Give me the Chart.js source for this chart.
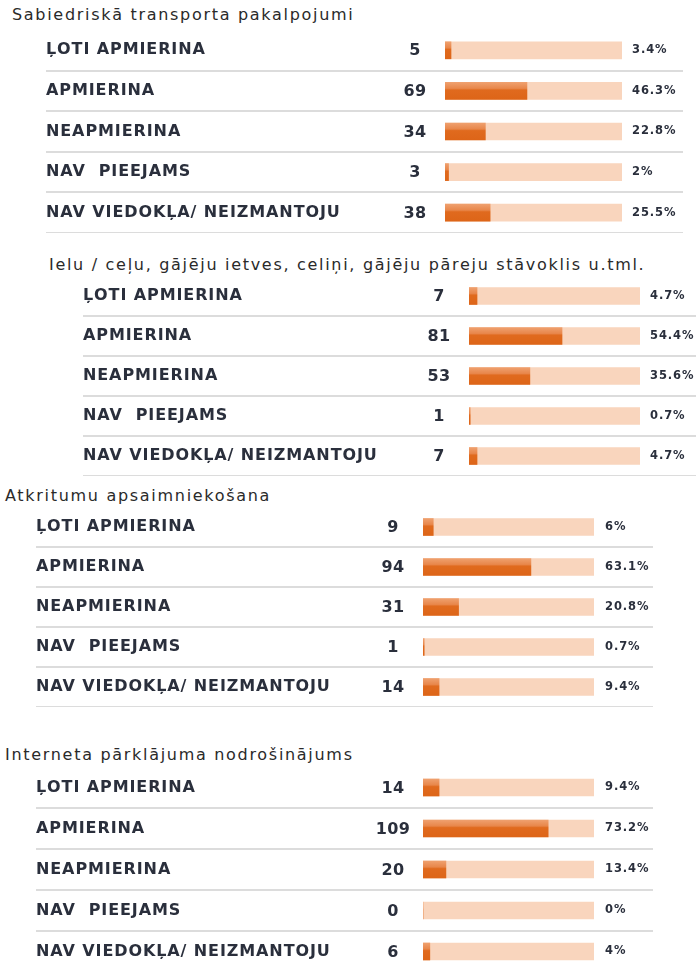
<!DOCTYPE html>
<html>
<head>
<meta charset="utf-8">
<script src="https://cdn.jsdelivr.net/npm/chart.js@4"></script>
<style>
  body { margin: 0; width: 696px; height: 967px; overflow: hidden; background: #fff; font-family: "DejaVu Sans", sans-serif; }
  .title { position: absolute; font-size: 16px; line-height: 18px; letter-spacing: 1.7px; color: #2a2a2a; white-space: nowrap; }
  .box { position: absolute; }
</style>
</head>
<body>
<div class="title" style="left:12px;top:6px">Sabiedriskā transporta pakalpojumi</div>
<div class="title" style="left:49px;top:256px">Ielu / ceļu, gājēju ietves, celiņi, gājēju pāreju stāvoklis u.tml.</div>
<div class="title" style="left:5px;top:487px">Atkritumu apsaimniekošana</div>
<div class="title" style="left:5px;top:746px">Interneta pārklājuma nodrošinājums</div>

<div class="box" id="b1"><canvas id="c1"></canvas></div>
<div class="box" id="b2"><canvas id="c2"></canvas></div>
<div class="box" id="b3"><canvas id="c3"></canvas></div>
<div class="box" id="b4"><canvas id="c4"></canvas></div>

<script>
const categories = ['ĻOTI APMIERINA', 'APMIERINA', 'NEAPMIERINA', 'NAV  PIEEJAMS', 'NAV VIEDOKĻA/ NEIZMANTOJU'];

const transportCounts = [5, 69, 34, 3, 38];
const transportPct = [3.4, 46.3, 22.8, 2, 25.5];

const roadCounts = [7, 81, 53, 1, 7];
const roadPct = [4.7, 54.4, 35.6, 0.7, 4.7];

const wasteCounts = [9, 94, 31, 1, 14];
const wastePct = [6, 63.1, 20.8, 0.7, 9.4];

const internetCounts = [14, 109, 20, 0, 6];
const internetPct = [9.4, 73.2, 13.4, 0, 4];

const TEXT = '#2a2f3c';
const LINE = '#dcdcdc';
const PEACH = '#f9d5bd';
const FONT = '"DejaVu Sans", sans-serif';

// wider tracking for all canvas text, like the original
const spacingPlugin = {
  id: 'spacing',
  beforeDraw(chart) { chart.ctx.letterSpacing = '0.9px'; }
};

// draws the count column between label and bar
const countPlugin = {
  id: 'counts',
  afterDatasetsDraw(chart, args, opts) {
    const { ctx, chartArea, scales: { y } } = chart;
    ctx.save();
    ctx.font = 'bold 16px ' + FONT;
    ctx.letterSpacing = '0.3px';
    ctx.fillStyle = TEXT;
    ctx.textAlign = 'center';
    ctx.textBaseline = 'middle';
    opts.values.forEach((v, i) => {
      ctx.fillText(String(v), chartArea.left - 30, y.getPixelForValue(i) + 1);
    });
    ctx.restore();
  }
};

function darkFill(c) {
  const chart = c.chart;
  const y = chart.scales.y;
  if (!y || !chart.chartArea) return '#e0691e';
  const yc = y.getPixelForValue(c.dataIndex);
  const g = chart.ctx.createLinearGradient(0, yc - 8.5, 0, yc + 8.5);
  g.addColorStop(0, '#efa06e');
  g.addColorStop(0.35, '#e8874b');
  g.addColorStop(0.45, '#e06a1e');
  g.addColorStop(1, '#dd6518');
  return g;
}

function makeChart(id, boxId, counts, pct, lay) {
  const box = document.getElementById(boxId);
  box.style.left = lay.labelX + 'px';
  box.style.top = lay.top + 'px';
  box.style.width = (lay.lineEnd - lay.labelX) + 'px';
  box.style.height = (lay.bottom - lay.top) + 'px';

  const leftW = lay.barStart - lay.labelX;
  const rightW = lay.lineEnd - lay.barEnd;
  const gridColor = c => (c.index === 0 ? 'rgba(0,0,0,0)' : LINE);

  new Chart(document.getElementById(id), {
    type: 'bar',
    data: {
      labels: categories,
      datasets: [
        { data: pct, backgroundColor: darkFill, grouped: false, barThickness: 17, order: 1 },
        { data: categories.map(() => 100), backgroundColor: PEACH, grouped: false, barThickness: 17, order: 2 }
      ]
    },
    options: {
      indexAxis: 'y',
      responsive: true,
      maintainAspectRatio: false,
      animation: false,
      layout: { padding: 0 },
      plugins: { legend: { display: false }, tooltip: { enabled: false }, counts: { values: counts } },
      scales: {
        x: { display: false, min: 0, max: 100 },
        y: {
          position: 'left',
          offset: true,
          border: { display: false },
          grid: { offset: true, color: gridColor, lineWidth: 2, tickLength: leftW, drawOnChartArea: true },
          ticks: { crossAlign: 'far', padding: 0, color: TEXT, font: { family: FONT, size: 16, weight: 'bold' } },
          afterFit: s => { s.width = leftW; s.paddingTop = 0; s.paddingBottom = 0; }
        },
        y2: {
          type: 'category',
          position: 'right',
          labels: pct.map(v => v + '%'),
          offset: true,
          border: { display: false },
          grid: { offset: true, color: gridColor, lineWidth: 2, tickLength: rightW, drawOnChartArea: false },
          ticks: { crossAlign: 'near', padding: lay.pctGap - rightW, color: TEXT, font: { family: FONT, size: 11.5, weight: 'bold' } },
          afterFit: s => { s.width = rightW; s.paddingTop = 0; s.paddingBottom = 0; }
        }
      }
    },
    plugins: [spacingPlugin, countPlugin]
  });
}

makeChart('c1', 'b1', transportCounts, transportPct, { labelX: 46, top: 30, bottom: 233, barStart: 445, barEnd: 622, lineEnd: 683, pctGap: 10 });
makeChart('c2', 'b2', roadCounts, roadPct, { labelX: 83, top: 276, bottom: 476, barStart: 469, barEnd: 640, lineEnd: 696, pctGap: 10 });
makeChart('c3', 'b3', wasteCounts, wastePct, { labelX: 36, top: 507, bottom: 707, barStart: 423, barEnd: 594, lineEnd: 653, pctGap: 11 });
makeChart('c4', 'b4', internetCounts, internetPct, { labelX: 36, top: 767, bottom: 972, barStart: 423, barEnd: 594, lineEnd: 653, pctGap: 11 });
</script>
</body>
</html>
